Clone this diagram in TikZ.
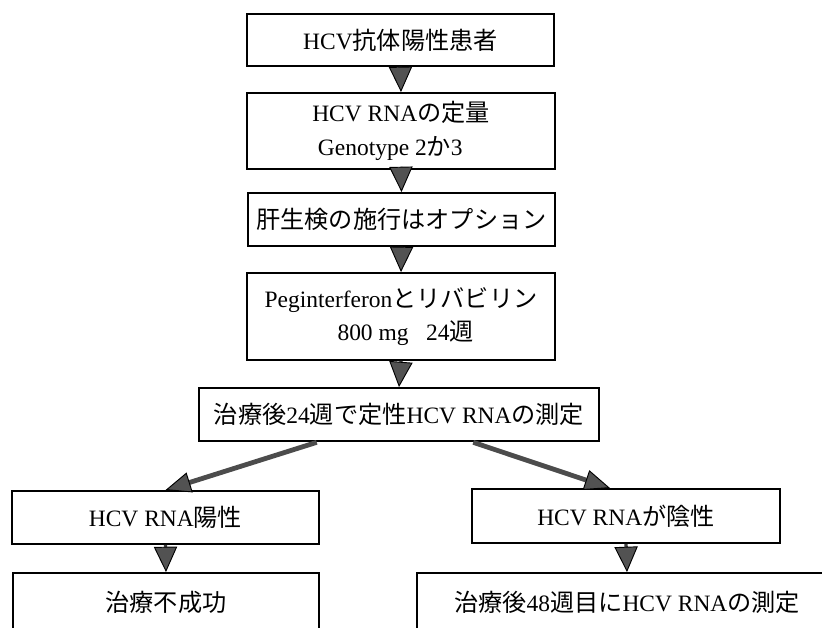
\documentclass[tikz,border=0pt]{standalone}
\usepackage{fontspec}
\setmainfont{Liberation Serif}
\newfontfamily\jpfont[Scale=1.03]{Noto Sans CJK JP}
\newcommand\J[1]{{\jpfont #1}}
\usetikzlibrary{arrows.meta}
\begin{document}
\begin{tikzpicture}[x=0.75pt,y=-0.75pt,
  box/.style={draw=black, line width=1.4pt, fill=white, inner sep=0pt, align=center,
    font=\fontsize{17.6}{25}\selectfont},
  downarrow/.style={draw=black!75, line width=2.5pt,
    -{Triangle[length=19pt,width=17.5pt,line width=0.7pt,color=black,fill=black!68]}},
  diagarrow/.style={draw=black!70, line width=3.6pt, shorten <=1pt,
    -{Triangle[length=19pt,width=15.5pt,line width=0.7pt,color=black,fill=black!68]}}]
\useasboundingbox (0,0) rectangle (822,628);
\clip (0,0) rectangle (822,628);
\fill[white] (0,0) rectangle (822,628);

\node[box, minimum width=230.25pt, minimum height=39pt] (b1) at (400.5,40) {HCV\J{抗体陽性患者}};
\node[box, minimum width=231pt, minimum height=57pt] (b2) at (401,131)
  {HCV RNA\J{の定量}\\Genotype 2\J{か}3\kern16pt};
\node[box, minimum width=230.25pt, minimum height=39.75pt] (b3) at (401.5,219.5) {\J{肝生検の施行はオプション}};
\node[box, minimum width=231pt, minimum height=65.25pt] (b4) at (401,316.5)
  {Peginterferon\J{とリバビリン}\\\kern7pt 800 mg\enspace\ 24\J{週}};
\node[box, minimum width=300pt, minimum height=39.75pt] (b5) at (399,414.5)
  {\J{治療後}24\J{週で定性}HCV RNA\J{の測定}};
\node[box, minimum width=230.25pt, minimum height=39.75pt] (b6) at (165.5,517.5) {HCV RNA\J{陽性}};
\node[box, minimum width=231pt, minimum height=40.5pt] (b7) at (626,516) {HCV RNA\J{が陰性}};
\node[box, minimum width=229.5pt, minimum height=43.5pt] (b8) at (166,602) {\J{治療不成功}};
\node[box, minimum width=315pt, minimum height=43.5pt] (b9) at (627,602)
  {\J{治療後}48\J{週目に}HCV RNA\J{の測定}};

\draw[downarrow] (b1.south) -- (b2.north);
\draw[downarrow] (b2.south) -- (b3.north);
\draw[downarrow] (b3.south) -- (b4.north);
\draw[downarrow] (b4.south) -- (b5.north);
\draw[downarrow] (b6.south) -- (b8.north);
\draw[downarrow] (b7.south) -- (b9.north);
\draw[diagarrow] ([xshift=-60.75pt]b5.south) -- (b6.north);
\draw[diagarrow] ([xshift=54.75pt]b5.south) -- ([xshift=-12pt]b7.north);
\end{tikzpicture}
\end{document}
